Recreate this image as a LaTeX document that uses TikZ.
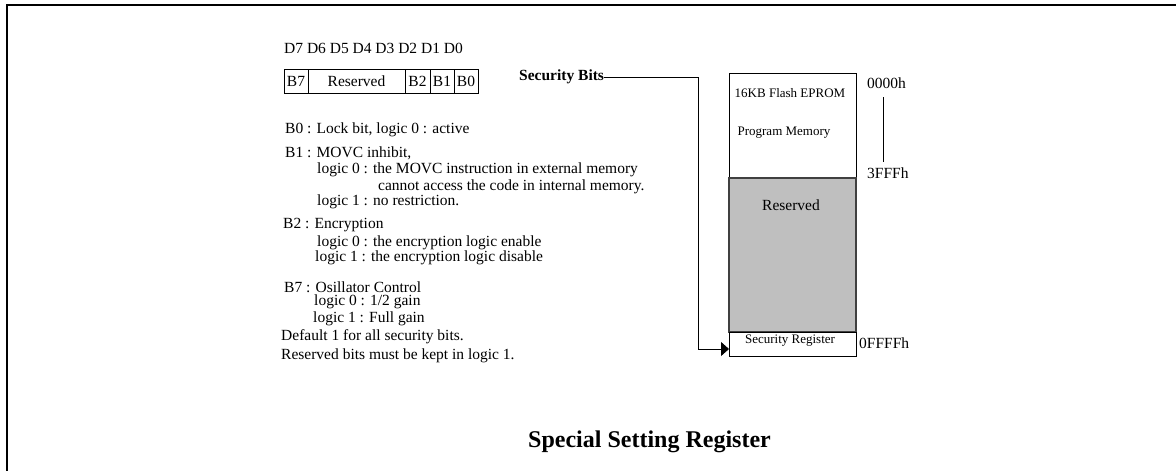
\documentclass[tikz,border=0pt]{standalone}
\usepackage{fontspec}
\setmainfont{Liberation Serif}
\usetikzlibrary{arrows.meta}
\newcommand\myfs[1]{\fontsize{#1}{#1}\selectfont}
\tikzset{
  txt/.style={anchor=west,inner sep=0pt,font=\myfs{15.5}},
  cell/.style={draw,line width=0.8pt,minimum height=24pt,inner sep=0pt,font=\myfs{15.5}},
  memtxt/.style={inner sep=0pt,font=\myfs{13}},
  addr/.style={anchor=west,inner sep=0pt,font=\myfs{15.5}},
  conn/.style={line width=0.8pt},
}
\begin{document}
\begin{tikzpicture}[x=1pt,y=-1pt]
\useasboundingbox (0,0) rectangle (1176,471);
% frame
\draw[line width=2.2pt] (7,471) -- (7,5) -- (1176,5);
% bit header
\node[txt] (dhead) at (284,48) {D7 D6 D5 D4 D3 D2 D1 D0};
\node[cell,minimum width=24pt] (b7) at (296,81) {B7};
\node[cell,minimum width=97pt] (rsv) at (356.5,81) {Reserved};
\node[cell,minimum width=25pt] (b2) at (417.5,81) {B2};
\node[cell,minimum width=24pt] (b1) at (442,81) {B1};
\node[cell,minimum width=24pt] (b0) at (466,81) {B0};
% description
\node[txt] (l1) at (285,130) {B0 : Lock bit, logic 0 : active};
\node[txt] (l2) at (285,153) {B1 : MOVC inhibit,};
\node[txt] (l3) at (317,170) {logic 0 : the MOVC instruction in external memory};
\node[txt] (l4) at (378,187) {cannot access the code in internal memory.};
\node[txt] (l5) at (317,202) {logic 1 : no restriction.};
\node[txt] (l6) at (283,225) {B2 : Encryption};
\node[txt] (l7) at (317,243) {logic 0 : the encryption logic enable};
\node[txt] (l8) at (315,258) {logic 1 : the encryption logic disable};
\node[txt] (l9) at (284,287) {B7 : Osillator Control};
\node[txt] (l10) at (314,302) {logic 0 : 1/2 gain};
\node[txt] (l11) at (313,319) {logic 1 : Full gain};
\node[txt] (l12) at (281,337) {Default 1 for all security bits.};
\node[txt] (l13) at (281,356) {Reserved bits must be kept in logic 1.};
% security bits label
\node[txt,font=\myfs{15.5}\bfseries] (secbits) at (519,77) {Security Bits};
% memory map
\node[draw,line width=0.8pt,minimum width=127pt,minimum height=283pt,inner sep=0pt] (mem) at (792.5,214.5) {};
\node[draw=black!75,line width=1.2pt,fill=black!25,minimum width=127pt,minimum height=154pt,inner sep=0pt] (gray) at (792.5,255) {};
\node[draw,line width=0.8pt,minimum width=127pt,minimum height=24pt,inner sep=0pt] (sr) at (792.5,344) {};
\node[memtxt] (flash) at (790,93) {16KB Flash EPROM};
\node[memtxt] (prog) at (784,133) {Program Memory};
\node[inner sep=0pt,font=\myfs{15.5}] (grsv) at (791,205) {Reserved};
\node[memtxt] (srt) at (790,341) {Security Register};
\node[addr] (a0) at (867,83) {0000h};
\node[addr] (a1) at (867,173) {3FFFh};
\node[addr] (a2) at (859,343) {0FFFFh};
\coordinate (t1) at (883,97);
\coordinate (t2) at (883,162);
\draw[line width=0.8pt] (t1) -- (t2);
% connector
\coordinate (corner) at (698,77);
\coordinate (srin) at (729,349);
\draw[conn,-{Triangle[length=8pt,width=14pt]}] (secbits.east) -- (corner) |- (srin);
% title
\node[inner sep=0pt,font=\myfs{24}\bfseries] (title) at (649.5,442) {Special Setting Register};
\end{tikzpicture}
\end{document}
